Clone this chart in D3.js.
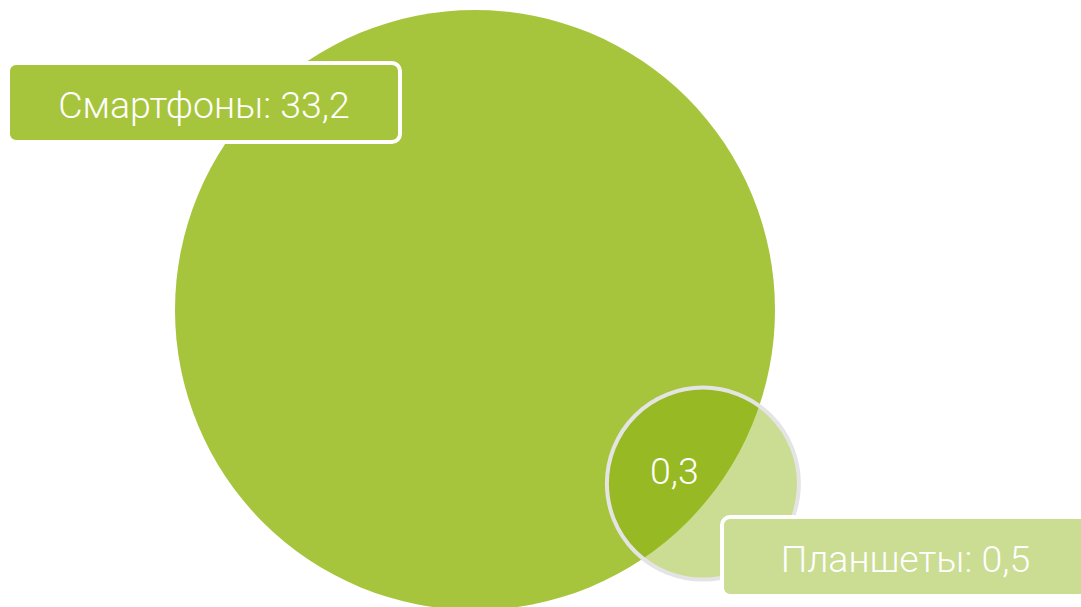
<!DOCTYPE html>
<html>
<head>
<meta charset="utf-8">
<script src="https://cdn.jsdelivr.net/npm/d3@7"></script>
<style>
    html, body { margin: 0; padding: 0; background: #ffffff; }
    svg { display: block; }
    text { font-family: Roboto, "Noto Sans", sans-serif; font-weight: 300; }
</style>
</head>
<body>
<svg id="chart" width="1081" height="607"></svg>
<script>
// Sets and their values (млн)
const setNames = ["Смартфоны", "Планшеты"];
const setValues = [33.2, 0.5];
// Overlap of the two sets
const overlapValue = 0.3;

const setColors = ["#a7c53c", "#cbdc93"];
const overlapColor = "#97b923";

const fmt = (v) => d3.format(".1f")(v).replace(".", ",");

const svg = d3.select("#chart");
const fontSize = 37.5;

// radius scale, log so the small set stays readable
const rScale = d3.scaleLog().domain([d3.min(setValues), d3.max(setValues)]).range([96, 300]);

// Layout of circle centres
const bigCenter = { x: 475, y: 310 };
const centerDist = 286.5;
const angle = (37.3 * Math.PI) / 180;

const circles = setValues.map((v, i) => ({
    name: setNames[i],
    value: v,
    r: rScale(v),
    cx: i == 0 ? bigCenter.x : bigCenter.x + centerDist * Math.cos(angle),
    cy: i == 0 ? bigCenter.y : bigCenter.y + centerDist * Math.sin(angle),
    color: setColors[i]
}));

const [big, small] = circles;

svg.append("defs")
    .append("clipPath")
    .attr("id", "clip-big")
    .append("circle")
    .attr("cx", big.cx)
    .attr("cy", big.cy)
    .attr("r", big.r);

// big set
svg.append("circle")
    .attr("cx", big.cx)
    .attr("cy", big.cy)
    .attr("r", big.r)
    .attr("fill", big.color);

// small set
svg.append("circle")
    .attr("cx", small.cx)
    .attr("cy", small.cy)
    .attr("r", small.r)
    .attr("fill", small.color);

// intersection
svg.append("circle")
    .attr("cx", small.cx)
    .attr("cy", small.cy)
    .attr("r", small.r)
    .attr("fill", overlapColor)
    .attr("clip-path", "url(#clip-big)");

// outline of the small set on top
svg.append("circle")
    .attr("cx", small.cx)
    .attr("cy", small.cy)
    .attr("r", small.r)
    .attr("fill", "none")
    .attr("stroke", "#e4e4e4")
    .attr("stroke-width", 4);

// intersection value
svg.append("text")
    .attr("x", small.cx - 28.5)
    .attr("y", small.cy + 0.5)
    .attr("text-anchor", "middle")
    .attr("font-size", fontSize)
    .attr("fill", "#ffffff")
    .text(fmt(overlapValue));

// set labels
const labels = [
    { x: 8, y: 63, w: 392, h: 79, c: big },
    { x: 722, y: 517, w: 367, h: 79, c: small }
];

labels.forEach((l) => {
    const g = svg.append("g");
    g.append("rect")
        .attr("x", l.x)
        .attr("y", l.y)
        .attr("width", l.w)
        .attr("height", l.h)
        .attr("rx", 8)
        .attr("fill", l.c.color)
        .attr("stroke", "#ffffff")
        .attr("stroke-width", 4);
    g.append("text")
        .attr("x", l.x + l.w / 2)
        .attr("y", l.y + l.h / 2 + 15)
        .attr("text-anchor", "middle")
        .attr("font-size", fontSize)
        .attr("fill", "#ffffff")
        .text(`${l.c.name}: ${fmt(l.c.value)}`);
});
</script>
</body>
</html>
